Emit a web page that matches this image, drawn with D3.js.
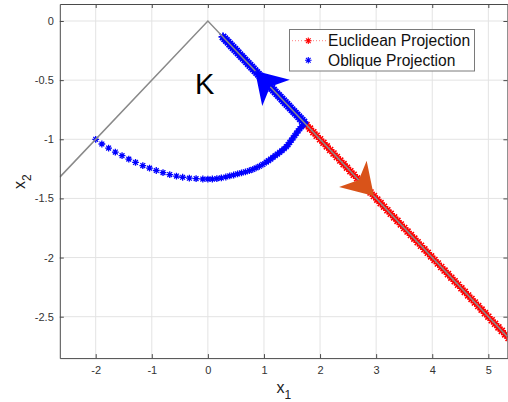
<!DOCTYPE html>
<html>
<head>
<meta charset="utf-8">
<script src="https://cdn.jsdelivr.net/npm/d3@7"></script>
<style>
  html, body { margin: 0; padding: 0; background: #fff; }
  svg { display: block; }
  text { font-family: "Liberation Sans", Arial, Helvetica, sans-serif; }
</style>
</head>
<body>
<svg id="chart" width="508" height="402"></svg>
<script>
// ---------- data ----------
const xTicks = [-2, -1, 0, 1, 2, 3, 4, 5];
const yTicks = [0, -0.5, -1, -1.5, -2, -2.5];

// boundary of the cone K
const coneX = [-2.64, 0, 5.34];
const coneY = [-1.32, 0, -2.67];

// oblique projection: curved path
const curveX = [-2.00,-1.89,-1.77,-1.65,-1.53,-1.41,-1.29,-1.16,-1.04,-0.92,-0.80,-0.68,-0.56,-0.45,-0.33,-0.21,-0.09,
  0.00,0.08,0.16,0.24,0.32,0.39,0.46,0.53,0.60,0.67,0.74,0.80,0.86,0.92,0.98,1.04,1.08,1.12,1.16,1.20,1.24,1.28,1.32,1.36,
  1.40,1.43,1.46,1.49,1.52,1.55,1.58,1.61,1.64,1.67,1.70,1.73];
const curveY = [-1.000,-1.040,-1.074,-1.108,-1.139,-1.168,-1.196,-1.222,-1.244,-1.264,-1.282,-1.298,-1.311,-1.321,-1.329,-1.333,-1.336,
  -1.337,-1.336,-1.333,-1.327,-1.319,-1.310,-1.302,-1.293,-1.284,-1.275,-1.265,-1.254,-1.242,-1.228,-1.213,-1.194,-1.181,-1.167,-1.153,-1.139,-1.125,-1.110,-1.095,-1.080,
  -1.063,-1.045,-1.026,-1.007,-0.988,-0.968,-0.948,-0.929,-0.911,-0.894,-0.878,-0.866];

// oblique projection: along the boundary
const obliqueX = [0.27,0.30,0.33,0.36,0.39,0.42,0.45,0.48,0.51,0.54,0.57,0.60,0.63,0.66,0.69,0.72,0.75,0.78,0.81,0.84,
  0.87,0.90,0.93,0.96,0.99,1.02,1.05,1.08,1.11,1.14,1.17,1.20,1.23,1.26,1.29,1.32,1.35,1.38,1.41,1.44,1.47,1.50,1.53,
  1.56,1.59,1.62,1.65,1.68,1.71];
const obliqueY = [-0.135,-0.150,-0.165,-0.180,-0.195,-0.210,-0.225,-0.240,-0.255,-0.270,-0.285,-0.300,-0.315,-0.330,
  -0.345,-0.360,-0.375,-0.390,-0.405,-0.420,-0.435,-0.450,-0.465,-0.480,-0.495,-0.510,-0.525,-0.540,-0.555,-0.570,
  -0.585,-0.600,-0.615,-0.630,-0.645,-0.660,-0.675,-0.690,-0.705,-0.720,-0.735,-0.750,-0.765,-0.780,-0.795,-0.810,
  -0.825,-0.840,-0.855];

// euclidean projection: along the boundary
const euclidX = [1.76,1.82,1.88,1.94,2.00,2.06,2.12,2.18,2.24,2.30,2.36,2.42,2.48,2.54,2.60,2.66,2.72,2.78,2.84,2.90,
  2.96,3.02,3.08,3.14,3.20,3.26,3.32,3.38,3.44,3.50,3.56,3.62,3.68,3.74,3.80,3.86,3.92,3.98,4.04,4.10,4.16,4.22,4.28,
  4.34,4.40,4.46,4.52,4.58,4.64,4.70,4.76,4.82,4.88,4.94,5.00,5.06,5.12,5.18,5.24,5.30,5.36];
const euclidY = [-0.88,-0.91,-0.94,-0.97,-1.00,-1.03,-1.06,-1.09,-1.12,-1.15,-1.18,-1.21,-1.24,-1.27,-1.30,-1.33,-1.36,
  -1.39,-1.42,-1.45,-1.48,-1.51,-1.54,-1.57,-1.60,-1.63,-1.66,-1.69,-1.72,-1.75,-1.78,-1.81,-1.84,-1.87,-1.90,-1.93,
  -1.96,-1.99,-2.02,-2.05,-2.08,-2.11,-2.14,-2.17,-2.20,-2.23,-2.26,-2.29,-2.32,-2.35,-2.38,-2.41,-2.44,-2.47,-2.50,
  -2.53,-2.56,-2.59,-2.62,-2.65,-2.68];

// direction arrows (tip and base in data units)
const arrowTips  = [[0.84, -0.42], [2.96, -1.48]];
const arrowBases = [[1.215, -0.6075], [2.585, -1.2925]];
const arrowColors = ["#0000ff", "#d95319"];

const legendLabels = ["Euclidean Projection", "Oblique Projection"];
const legendColors = ["#ff0000", "#0000ff"];
const regionLabel = "K";
const xLabel = "x", xSub = "1";
const yLabel = "x", ySub = "2";

// ---------- layout ----------
const L = 59.8, R = 507.4, T = 4, B = 358.1;
const x = d3.scaleLinear().domain([-2.64, 5.34]).range([L, R]);
const y = d3.scaleLinear().domain([-2.85, 0.1437]).range([B, T]);

const svg = d3.select("#chart");
svg.append("defs").append("clipPath").attr("id", "clip")
  .append("rect").attr("x", L).attr("y", T).attr("width", R - L).attr("height", B - T);

const zip = (a, b) => a.slice(0, Math.min(a.length, b.length)).map((v, i) => [v, b[i]]);

// grid
const grid = svg.append("g");
grid.selectAll(".gx").data(xTicks).join("line")
  .attr("x1", d => x(d)).attr("x2", d => x(d)).attr("y1", T).attr("y2", B)
  .attr("stroke", "#e3e3e3").attr("stroke-width", 1);
grid.selectAll(".gy").data(yTicks).join("line")
  .attr("y1", d => y(d)).attr("y2", d => y(d)).attr("x1", L).attr("x2", R)
  .attr("stroke", "#e3e3e3").attr("stroke-width", 1);

const plot = svg.append("g").attr("clip-path", "url(#clip)");

function star(r) {
  const a = r * 0.7071;
  return `M${-r},0L${r},0M0,${-r}L0,${r}M${-a},${-a}L${a},${a}M${-a},${a}L${a},${-a}`;
}

// euclidean dotted line + markers
const lineGen = d3.line().x(d => x(d[0])).y(d => y(d[1]));
const euclid = zip(euclidX, euclidY);
plot.append("path").datum(euclid).attr("d", lineGen)
  .attr("fill", "none").attr("stroke", "#ff0000").attr("stroke-width", 1).attr("stroke-dasharray", "1,2");
plot.append("g").selectAll("path").data(euclid).join("path")
  .attr("transform", d => `translate(${x(d[0])},${y(d[1])})`)
  .attr("d", star(4.2)).attr("stroke", "#ff0000").attr("stroke-width", 1.6).attr("fill", "none");

// oblique markers
const oblique = zip(obliqueX, obliqueY);
plot.append("g").selectAll("path").data(oblique).join("path")
  .attr("transform", d => `translate(${x(d[0])},${y(d[1])})`)
  .attr("d", star(4.5)).attr("stroke", "#0000ff").attr("stroke-width", 1.8).attr("fill", "none");
const curve = zip(curveX, curveY);
plot.append("g").selectAll("path").data(curve).join("path")
  .attr("transform", d => `translate(${x(d[0])},${y(d[1])})`)
  .attr("d", star(3.4)).attr("stroke", "#0000ff").attr("stroke-width", 1.3).attr("fill", "none");

// cone boundary
plot.append("path").datum(zip(coneX, coneY)).attr("d", lineGen)
  .attr("fill", "none").attr("stroke", "#8a8a8a").attr("stroke-width", 1.5);

// arrows
arrowTips.forEach((tip, i) => {
  const tx = x(tip[0]), ty = y(tip[1]);
  const bx = x(arrowBases[i][0]), by = y(arrowBases[i][1]);
  const dx = bx - tx, dy = by - ty, len = Math.hypot(dx, dy);
  const ux = dx / len, uy = dy / len, px = -uy, py = ux;
  const w = 19, notch = len * 0.72;
  const pts = [
    [tx, ty],
    [bx + px * w, by + py * w],
    [tx + ux * notch, ty + uy * notch],
    [bx - px * w, by - py * w]
  ];
  plot.append("path").attr("d", "M" + pts.map(p => p.join(",")).join("L") + "Z")
    .attr("fill", arrowColors[i]).attr("stroke", "none");
});

// region label
svg.append("text").attr("x", x(-0.23)).attr("y", y(-0.617))
  .attr("font-size", 29).attr("fill", "#000").text(regionLabel);

// axes
const fmt = d => String(d);
const axB = svg.append("g").attr("transform", `translate(0,${B})`)
  .call(d3.axisBottom(x).tickValues(xTicks).tickFormat(fmt).tickSizeInner(-4).tickSizeOuter(0).tickPadding(8));
const axT = svg.append("g").attr("transform", `translate(0,${T})`)
  .call(d3.axisTop(x).tickValues(xTicks).tickFormat("").tickSizeInner(-4).tickSizeOuter(0));
const axL = svg.append("g").attr("transform", `translate(${L},0)`)
  .call(d3.axisLeft(y).tickValues(yTicks).tickFormat(fmt).tickSizeInner(-4).tickSizeOuter(0).tickPadding(6));
const axR = svg.append("g").attr("transform", `translate(${R},0)`)
  .call(d3.axisRight(y).tickValues(yTicks).tickFormat("").tickSizeInner(-4).tickSizeOuter(0));
[axB, axT, axL, axR].forEach(g => {
  g.select(".domain").attr("stroke", "#4a4a4a").attr("stroke-width", 1);
  g.selectAll(".tick line").attr("stroke", "#4a4a4a");
  g.selectAll("text").attr("font-size", 11).attr("fill", "#333")
    .attr("font-family", "'Liberation Sans', Arial, Helvetica, sans-serif");
});

// axis labels
const xl = svg.append("text").attr("x", 276.5).attr("y", 392.5).attr("font-size", 16).attr("fill", "#222");
xl.append("tspan").text(xLabel);
xl.append("tspan").attr("font-size", 12).attr("dy", 6).text(xSub);

const yl = svg.append("text").attr("transform", `translate(25,189) rotate(-90)`)
  .attr("font-size", 16).attr("fill", "#222");
yl.append("tspan").text(yLabel);
yl.append("tspan").attr("font-size", 12).attr("dy", 6).text(ySub);

// legend
const lg = svg.append("g");
lg.append("rect").attr("x", 289.5).attr("y", 29.5).attr("width", 185).attr("height", 41.5)
  .attr("fill", "#fff").attr("stroke", "#7a7a7a").attr("stroke-width", 1);
const rowsY = [40.7, 60.3];
lg.append("line").attr("x1", 292).attr("x2", 326).attr("y1", rowsY[0]).attr("y2", rowsY[0])
  .attr("stroke", "#ff8080").attr("stroke-width", 1).attr("stroke-dasharray", "1,2");
legendLabels.forEach((lab, i) => {
  lg.append("path").attr("transform", `translate(308.3,${rowsY[i]})`)
    .attr("d", star(3.3)).attr("stroke", legendColors[i]).attr("stroke-width", 1.1).attr("fill", "none");
  lg.append("text").attr("x", 328).attr("y", rowsY[i] + 5.5).attr("font-size", 15.6).attr("fill", "#111").text(lab);
});
</script>
</body>
</html>
